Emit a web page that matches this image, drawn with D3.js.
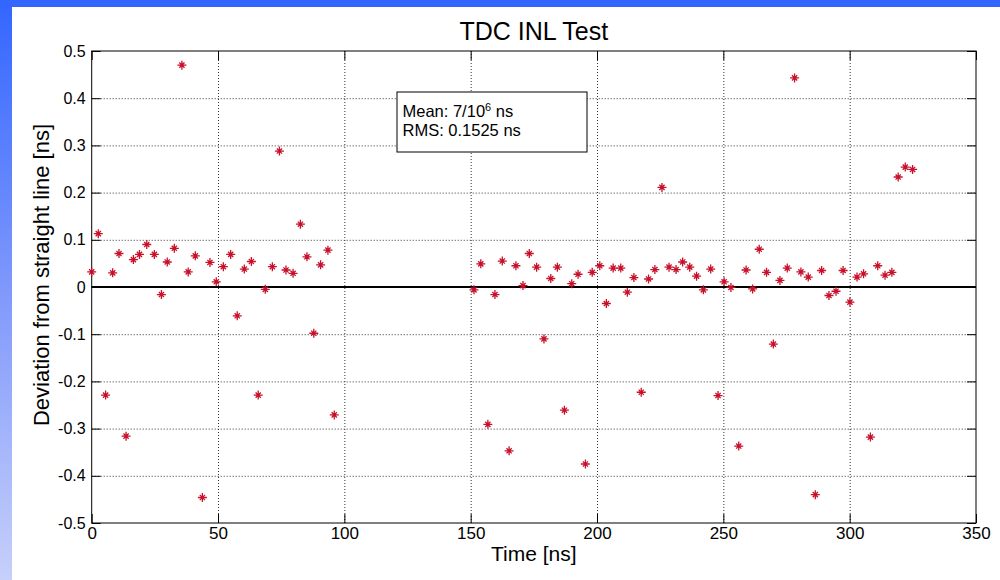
<!DOCTYPE html>
<html>
<head>
<meta charset="utf-8">
<script src="https://cdn.jsdelivr.net/npm/d3@7"></script>
<style>
  html, body { margin: 0; padding: 0; background: #fff; }
  svg { display: block; }
  text { font-family: "Liberation Sans", Arial, sans-serif; fill: #000; }
</style>
</head>
<body>
<svg id="chart" width="1000" height="580"></svg>
<script>
// ---- data ----
const titleText = "TDC INL Test";
const xLabel = "Time [ns]";
const yLabel = "Deviation from straight line [ns]";
const xTicks = [0, 50, 100, 150, 200, 250, 300, 350];
const yTicks = [-0.5, -0.4, -0.3, -0.2, -0.1, 0, 0.1, 0.2, 0.3, 0.4, 0.5];
const yTickLabels = ["-0.5", "-0.4", "-0.3", "-0.2", "-0.1", "0", "0.1", "0.2", "0.3", "0.4", "0.5"];
const times = [
  0, 2.6, 5.5, 8.3, 10.8, 13.6, 16.5, 18.9, 21.8, 24.8, 27.6, 29.9, 32.7, 35.7, 38.2, 41.0, 43.8, 46.8,
  49.3, 52.1, 55.0, 57.6, 60.4, 63.2, 65.9, 68.7, 71.5, 74.3, 76.9, 79.7, 82.6, 85.2, 87.9, 90.6, 93.5, 96.0,
  151.3, 154.0, 156.8, 159.6, 162.5, 165.2, 167.9, 170.7, 173.2, 176.1, 179.0, 181.7, 184.3, 187.1, 190.0, 192.5,
  195.4, 198.1, 201.1, 203.7, 206.4, 209.4, 212.0, 214.6, 217.5, 220.4, 222.9, 225.7, 228.5, 231.3, 233.9, 236.7,
  239.4, 242.1, 245.0, 247.9, 250.3, 253.0, 256.1, 259.0, 261.6, 264.2, 267.1, 269.8, 272.4, 275.3, 278.2, 280.7,
  283.6, 286.4, 288.9, 291.8, 294.6, 297.4, 300.1, 302.9, 305.5, 308.2, 311.1, 314.0, 316.7, 319.2, 322.0, 324.9
];
const deviations = [
  0.032, 0.113, -0.229, 0.030, 0.071, -0.316, 0.058, 0.069, 0.090, 0.069, -0.016, 0.053, 0.082, 0.470, 0.032, 0.066, -0.446, 0.052,
  0.011, 0.043, 0.069, -0.061, 0.038, 0.054, -0.229, -0.005, 0.043, 0.288, 0.036, 0.029, 0.133, 0.064, -0.098, 0.047, 0.078, -0.271,
  -0.006, 0.049, -0.291, -0.016, 0.055, -0.347, 0.045, 0.003, 0.071, 0.042, -0.110, 0.018, 0.042, -0.261, 0.007, 0.027,
  -0.375, 0.031, 0.045, -0.035, 0.040, 0.040, -0.011, 0.020, -0.223, 0.017, 0.037, 0.211, 0.042, 0.037, 0.053, 0.042,
  0.023, -0.006, 0.038, -0.230, 0.011, -0.001, -0.337, 0.036, -0.004, 0.080, 0.031, -0.121, 0.014, 0.040, 0.443, 0.032,
  0.021, -0.440, 0.035, -0.018, -0.009, 0.035, -0.032, 0.021, 0.028, -0.318, 0.045, 0.025, 0.031, 0.233, 0.254, 0.249
];
const statsLine1 = ["Mean: 7/10", "6", " ns"];
const statsLine2 = "RMS: 0.1525 ns";

// ---- layout ----
const svg = d3.select("#chart");
const W = 1000, H = 580;
const plot = { left: 91.7, right: 976, top: 51, bottom: 523 };

// slide background
const defs = svg.append("defs");
const grad = defs.append("linearGradient").attr("id", "leftband")
  .attr("x1", 0).attr("y1", 0).attr("x2", 0).attr("y2", 1);
grad.append("stop").attr("offset", "0%").attr("stop-color", "#3366ff");
grad.append("stop").attr("offset", "50%").attr("stop-color", "#7f98fb");
grad.append("stop").attr("offset", "100%").attr("stop-color", "#c6d0fa");
svg.append("rect").attr("x", 0).attr("y", 0).attr("width", W).attr("height", H).attr("fill", "url(#leftband)");
svg.append("rect").attr("x", 0).attr("y", 0).attr("width", W).attr("height", 7).attr("fill", "#3366ff");
svg.append("rect").attr("x", 12).attr("y", 7).attr("width", W - 12).attr("height", H - 7).attr("fill", "#ffffff");

const x = d3.scaleLinear().domain([0, 350]).range([plot.left, plot.right]);
const y = d3.scaleLinear().domain([-0.5, 0.5]).range([plot.bottom, plot.top]);
const pw = plot.right - plot.left, ph = plot.bottom - plot.top;

// grid
const grid = svg.append("g");
grid.append("g").attr("transform", `translate(0,${plot.bottom})`)
  .call(d3.axisBottom(x).tickValues(xTicks.slice(1, -1)).tickSize(-ph).tickFormat(""))
  .call(g => g.select(".domain").remove())
  .call(g => g.selectAll("line").attr("stroke", "#333").attr("stroke-dasharray", "1,2"));
grid.append("g").attr("transform", `translate(${plot.left},0)`)
  .call(d3.axisLeft(y).tickValues(yTicks.slice(1, -1)).tickSize(-pw).tickFormat(""))
  .call(g => g.select(".domain").remove())
  .call(g => g.selectAll("line").attr("stroke", "#333").attr("stroke-dasharray", "1,2"));

// zero line
svg.append("line").attr("x1", x(0)).attr("x2", x(350)).attr("y1", y(0)).attr("y2", y(0))
  .attr("stroke", "#000").attr("stroke-width", 2);

// axes with inward ticks
const tickLen = 9;
const fmtY = d => yTickLabels[yTicks.indexOf(d)];
svg.append("g").attr("transform", `translate(0,${plot.bottom})`)
  .call(d3.axisBottom(x).tickValues(xTicks).tickSize(-tickLen).tickPadding(4).tickFormat(d3.format("d")))
  .call(g => g.select(".domain").remove())
  .call(g => g.selectAll("text").attr("font-size", 17).style("font-family", '"Liberation Sans", Arial, sans-serif'));
svg.append("g").attr("transform", `translate(0,${plot.top})`)
  .call(d3.axisTop(x).tickValues(xTicks).tickSize(-tickLen).tickFormat(""))
  .call(g => g.select(".domain").remove());
svg.append("g").attr("transform", `translate(${plot.left},0)`)
  .call(d3.axisLeft(y).tickValues(yTicks).tickSize(-tickLen).tickPadding(6).tickFormat(fmtY))
  .call(g => g.select(".domain").remove())
  .call(g => g.selectAll("text").attr("font-size", 16).style("font-family", '"Liberation Sans", Arial, sans-serif'));
svg.append("g").attr("transform", `translate(${plot.right},0)`)
  .call(d3.axisRight(y).tickValues(yTicks).tickSize(-tickLen).tickFormat(""))
  .call(g => g.select(".domain").remove());
svg.selectAll(".tick line").filter(function () { return !this.getAttribute("stroke-dasharray"); })
  .attr("stroke", "#000");

// border
svg.append("rect").attr("x", plot.left).attr("y", plot.top).attr("width", pw).attr("height", ph)
  .attr("fill", "none").attr("stroke", "#000").attr("stroke-width", 1);

// markers '*'
const starPath = "M-4.5,0H4.5M0,-4.5V4.5M-2.6,-2.6L2.6,2.6M-2.6,2.6L2.6,-2.6";
svg.append("g").selectAll("path").data(times.map((t, i) => [t, deviations[i]])).join("path")
  .attr("transform", d => `translate(${x(d[0])},${y(d[1])})`)
  .attr("d", starPath)
  .attr("fill", "none").attr("stroke", "#c8102a").attr("stroke-width", 1.3);

// stats box
const box = svg.append("g");
box.append("rect").attr("x", 397).attr("y", 92).attr("width", 190).attr("height", 60)
  .attr("fill", "#fff").attr("stroke", "#000").attr("stroke-width", 1);
const t1 = box.append("text").attr("x", 402.5).attr("y", 117).attr("font-size", 16.5);
t1.append("tspan").text(statsLine1[0]);
t1.append("tspan").attr("dy", -6).attr("font-size", 11).text(statsLine1[1]);
t1.append("tspan").attr("dy", 6).text(statsLine1[2]);
box.append("text").attr("x", 402.5).attr("y", 135.5).attr("font-size", 16.5).text(statsLine2);

// title and labels
svg.append("text").attr("x", (plot.left + plot.right) / 2).attr("y", 40)
  .attr("text-anchor", "middle").attr("font-size", 25).text(titleText);
svg.append("text").attr("x", (plot.left + plot.right) / 2).attr("y", 561)
  .attr("text-anchor", "middle").attr("font-size", 21).text(xLabel);
svg.append("text").attr("transform", `translate(49,${275}) rotate(-90)`)
  .attr("text-anchor", "middle").attr("font-size", 22).text(yLabel);
</script>
</body>
</html>
